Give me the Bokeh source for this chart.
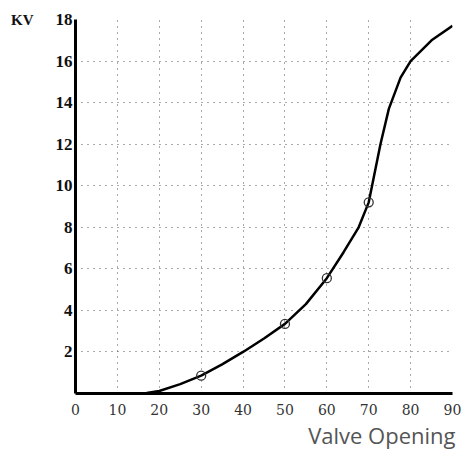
from bokeh.plotting import figure
from bokeh.models import Range1d, FixedTicker, LinearAxis, Title
from bokeh.embed import file_html
from bokeh.resources import INLINE

# Data
opening = [0, 10, 15, 17, 20, 25, 30, 35, 40, 45, 50, 55, 60, 64, 67.6, 70, 71.1, 72.8, 74.8, 77.6, 80, 85, 90]
kv = [0, 0, 0, 0.02, 0.12, 0.45, 0.86, 1.4, 2.0, 2.65, 3.35, 4.3, 5.55, 6.8, 8.0, 9.2, 10.3, 12.0, 13.7, 15.2, 16.0, 17.0, 17.7]
marker_opening = [30, 50, 60, 70]
marker_kv = [0.86, 3.35, 5.55, 9.2]
x_ticks = [0, 10, 20, 30, 40, 50, 60, 70, 80, 90]
y_ticks = [2, 4, 6, 8, 10, 12, 14, 16, 18]
y_title = "KV"
x_title = "Valve Opening"

p = figure(width=467, height=449, output_backend="svg", toolbar_location=None,
           x_range=Range1d(0, 90), y_range=Range1d(0, 18),
           min_border_left=75, min_border_right=15, min_border_top=19, min_border_bottom=55)
p.outline_line_color = None

p.xaxis.ticker = FixedTicker(ticks=x_ticks)
p.yaxis.ticker = FixedTicker(ticks=y_ticks)
p.xgrid.ticker = FixedTicker(ticks=x_ticks)
p.ygrid.ticker = FixedTicker(ticks=y_ticks)

for g in (p.xgrid, p.ygrid):
    g.grid_line_color = "#555555"
    g.grid_line_dash = "1 5"
    g.grid_line_width = 1

for ax in (p.xaxis, p.yaxis):
    ax.axis_line_color = "black"
    ax.axis_line_width = 3
    ax.major_tick_line_color = None
    ax.minor_tick_line_color = None
    ax.major_tick_out = 0
    ax.major_tick_in = 0
    ax.minor_tick_out = 0

p.yaxis.major_label_text_font = "Liberation Serif"
p.yaxis.major_label_text_font_style = "bold"
p.yaxis.major_label_text_font_size = "17px"
p.yaxis.major_label_text_color = "#111111"
p.yaxis.major_label_standoff = 3

p.xaxis.major_label_text_font = "DejaVu Serif"
p.xaxis.major_label_text_font_size = "14px"
p.xaxis.major_label_text_color = "#333333"
p.xaxis.major_label_standoff = 10

# "KV" unit label placed next to the top tick through an extra left axis
kv_axis = LinearAxis(ticker=FixedTicker(ticks=[18]), major_label_overrides={18: y_title},
                     axis_line_color=None, major_tick_line_color=None, minor_tick_line_color=None,
                     major_tick_out=0, major_tick_in=0, minor_tick_out=0,
                     major_label_standoff=19, major_label_text_font="Liberation Serif",
                     major_label_text_font_style="bold", major_label_text_font_size="15px",
                     major_label_text_color="#111111")
p.add_layout(kv_axis, "left")

p.add_layout(Title(text=x_title, align="right", text_font="Open Sans",
                   text_font_size="22px", text_font_style="normal",
                   text_color="#555555", standoff=0, offset=-3), "below")

p.line(opening, kv, line_color="black", line_width=2.5)
p.scatter(marker_opening, marker_kv, marker="circle", size=9, fill_color=None,
          line_color="#333333", line_width=1.3)

open("out.html", "w").write(file_html(p, INLINE))
